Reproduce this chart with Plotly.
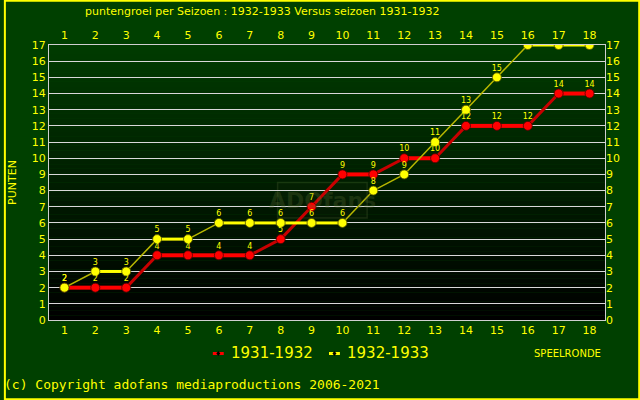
import plotly.graph_objects as go

rounds = list(range(1, 19))
season_3132 = [2, 2, 2, 4, 4, 4, 4, 5, 7, 9, 9, 10, 10, 12, 12, 12, 14, 14]
season_3233 = [2, 3, 3, 5, 5, 6, 6, 6, 6, 6, 8, 9, 11, 13, 15, 17, 17, 17]
y_ticks = list(range(0, 18))
series_names = ["1931-1932", "1932-1933"]

YEL = "#ffff00"
fig = go.Figure()


def split_segments(xs, ys):
    hx, hy, dx, dy = [], [], [], []
    for i in range(len(xs) - 1):
        if ys[i] == ys[i + 1]:
            hx += [xs[i], xs[i + 1], None]
            hy += [ys[i], ys[i + 1], None]
        else:
            dx += [xs[i], xs[i + 1], None]
            dy += [ys[i], ys[i + 1], None]
    return hx, hy, dx, dy


# gradient plot background
n = 60
shapes = []
for i in range(n):
    t = i / (n - 1)
    g = int(60 * t)
    shapes.append(dict(type="rect", xref="paper", yref="paper", x0=0, x1=1,
                       y0=i / n, y1=(i + 1) / n, line=dict(width=0),
                       fillcolor=f"rgb(0,{g},0)", layer="below"))
# outer yellow frame
shapes.append(dict(type="rect", xref="paper", yref="paper",
                   x0=-45/560 + 0.001, x1=1+35/560 - 0.001, y0=-80/275+0.003, y1=1+45/275-0.003,
                   line=dict(color=YEL, width=2), layer="above"))
# watermark box
shapes.append(dict(type="rect", x0=7.9, x1=10.8, y0=6.3, y1=8.5,
                   line=dict(color="rgba(90,110,60,0.25)", width=1.5),
                   fillcolor="rgba(40,60,20,0.1)", layer="below"))

styles = [
    dict(col="#ff0000", dcol="#c80000", hw=4, dw=3, edge="#500000"),
    dict(col=YEL, dcol="#b8b800", hw=3, dw=1.5, edge="#505000"),
]
for s, st in zip((season_3132, season_3233), styles):
    hx, hy, dx, dy = split_segments(rounds, s)
    fig.add_trace(go.Scatter(x=dx, y=dy, mode="lines", showlegend=False, hoverinfo="skip",
                             line=dict(color=st["dcol"], width=st["dw"])))
    fig.add_trace(go.Scatter(x=hx, y=hy, mode="lines", showlegend=False, hoverinfo="skip",
                             line=dict(color=st["col"], width=st["hw"])))
for s, st, nm in zip((season_3132, season_3233), styles, series_names):
    fig.add_trace(go.Scatter(x=rounds, y=s, mode="markers", name=nm, showlegend=False,
                             marker=dict(color=st["col"], size=9, line=dict(color=st["edge"], width=0.8))))
for s in (season_3132, season_3233):
    fig.add_trace(go.Scatter(x=rounds, y=s, mode="markers+text", text=[str(v) for v in s],
                             textposition="top center", showlegend=False,
                             marker=dict(size=6, opacity=0),
                             textfont=dict(color=YEL, size=8, family="DejaVu Sans"),
                             hoverinfo="skip"))
# dummy trace to activate secondary axes
fig.add_trace(go.Scatter(x=[rounds[0]], y=[0], xaxis="x2", yaxis="y2", mode="markers",
                         marker=dict(opacity=0), showlegend=False, hoverinfo="skip"))

# manual legend
def px(x):
    return (x - 45) / 560


def py(y):
    return (320 - y) / 275


legend_items = [(210, 226, series_names[0], "#ff0000"), (327, 343, series_names[1], YEL)]
annotations = []
for x0, tx, nm, c in legend_items:
    shapes.append(dict(type="rect", xref="paper", yref="paper", x0=px(x0), x1=px(x0 + 11),
                       y0=py(355), y1=py(352), fillcolor=c, line=dict(width=0), layer="above"))
    shapes.append(dict(type="path", xref="paper", yref="paper", layer="above",
                       path=f"M {px(x0+5.5)},{py(351)} L {px(x0+7.5)},{py(353.5)} L {px(x0+5.5)},{py(356)} L {px(x0+3.5)},{py(353.5)} Z",
                       fillcolor="#000000", line=dict(width=0)))
    annotations.append(dict(text=nm, xref="paper", yref="paper", x=px(tx), y=py(353),
                            xanchor="left", yanchor="middle", showarrow=False,
                            font=dict(color=YEL, size=15, family="DejaVu Sans")))

axfont = dict(color=YEL, size=11, family="DejaVu Sans")
annotations += [
    dict(text="puntengroei per Seizoen : 1932-1933 Versus seizoen 1931-1932",
         xref="paper", yref="paper", x=px(260), y=py(12), xanchor="center",
         yanchor="middle", showarrow=False,
         font=dict(color=YEL, size=11, family="DejaVu Sans")),
    dict(text="SPEELRONDE", xref="paper", yref="paper", x=px(567), y=py(353),
         xanchor="center", yanchor="middle", showarrow=False,
         font=dict(color=YEL, size=10, family="DejaVu Sans")),
    dict(text="(c) Copyright adofans mediaproductions 2006-2021", xref="paper", yref="paper",
         x=px(-2), y=py(384), xanchor="left", yanchor="middle", showarrow=False,
         font=dict(color=YEL, size=13, family="DejaVu Sans Mono")),
    dict(text="<b>ADOfans</b>", x=9.35, y=7.4, showarrow=False,
         font=dict(color="rgba(90,110,50,0.28)", size=22, family="DejaVu Sans")),
]

fig.update_layout(
    width=640, height=400,
    margin=dict(l=45, r=35, t=45, b=80),
    paper_bgcolor="#004000", plot_bgcolor="rgba(0,0,0,0)",
    shapes=shapes,
    xaxis=dict(range=[0.5, 18.5], tickvals=rounds, ticktext=[str(r) for r in rounds],
               showgrid=False, zeroline=False, tickfont=axfont, ticks="",
               showline=True, linecolor="#d0d0d0", mirror=True, fixedrange=True),
    yaxis=dict(range=[0, 17], tickvals=y_ticks, showgrid=True, gridcolor="#d8d8d8",
               gridwidth=1, zeroline=False, tickfont=axfont, ticks="",
               showline=True, linecolor="#d0d0d0", mirror=True,
               title=dict(text="PUNTEN", font=dict(color=YEL, size=11, family="DejaVu Sans"),
                          standoff=12)),
    xaxis2=dict(range=[0.5, 18.5], tickvals=rounds, overlaying="x", side="top",
                showgrid=False, zeroline=False, tickfont=axfont, ticks="", matches="x",
                ticklabelstandoff=3),
    yaxis2=dict(range=[0, 17], tickvals=y_ticks, overlaying="y", side="right",
                showgrid=False, zeroline=False, tickfont=axfont, ticks=""),
    showlegend=False,
    annotations=annotations,
)
fig.write_html("out.html")
